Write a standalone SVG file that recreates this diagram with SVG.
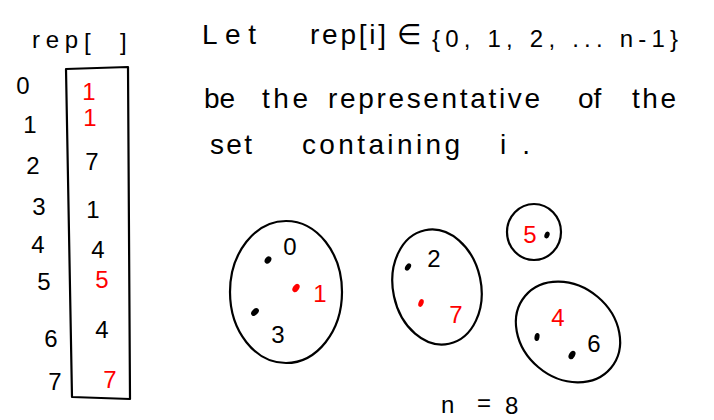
<svg xmlns="http://www.w3.org/2000/svg" width="714" height="420" viewBox="0 0 714 420">
<style>
.ink{fill:none;stroke:#000;stroke-width:2.2;stroke-linejoin:round;stroke-linecap:round}
.t{font-family:"Liberation Sans","DejaVu Sans",sans-serif;font-size:24px;fill:#000}
.w{font-size:28px}
.m{text-anchor:middle}
.r{fill:#f00}
.dot{fill:#000}
.rdot{fill:#f00}
</style>
<rect width="714" height="420" fill="#fff"/>

<g id="array">
  <text class="t" x="32" y="48" font-size="28" textLength="46">rep</text>
  <text class="t" x="84" y="50" font-size="32">[</text>
  <text class="t" x="120" y="50" font-size="32">]</text>
  <path class="ink" d="M66,69 L128,67 L130,399 L72,397 Z"/>
  <text class="t m" x="23" y="94">0</text>
  <text class="t m" x="30" y="133">1</text>
  <text class="t m" x="33" y="174">2</text>
  <text class="t m" x="39" y="215">3</text>
  <text class="t m" x="38" y="253">4</text>
  <text class="t m" x="44" y="290">5</text>
  <text class="t m" x="51" y="347">6</text>
  <text class="t m" x="55" y="390">7</text>
  <text class="t m r" x="89" y="100">1</text>
  <text class="t m r" x="90" y="126">1</text>
  <text class="t m" x="92" y="170">7</text>
  <text class="t m" x="93" y="218">1</text>
  <text class="t m" x="98" y="258">4</text>
  <text class="t m r" x="102" y="288">5</text>
  <text class="t m" x="102" y="338">4</text>
  <text class="t m r" x="110" y="388">7</text>
</g>

<g id="definition">
  <text class="t w" x="202" y="44" textLength="54">Let</text>
  <text class="t w" x="310" y="44" textLength="76">rep[i]</text>
  <text class="t w" x="397" y="44">∈</text>
  <text class="t" x="432" y="47" font-size="30" textLength="246">{0, 1, 2, ... n-1}</text>
  <text class="t w" x="204" y="108">be</text>
  <text class="t w" x="262" y="108" textLength="46">the</text>
  <text class="t w" x="328" y="108" textLength="212">representative</text>
  <text class="t w" x="578" y="108">of</text>
  <text class="t w" x="632" y="108" textLength="44">the</text>
  <text class="t w" x="210" y="154" textLength="42">set</text>
  <text class="t w" x="302" y="154" textLength="158">containing</text>
  <text class="t w" x="500" y="154" textLength="30">i.</text>
</g>

<g id="set-1">
  <ellipse class="ink" cx="286" cy="292" rx="56" ry="71"/>
  <ellipse class="dot" cx="268" cy="260" rx="3" ry="4" transform="rotate(35 268 260)"/>
  <text class="t m" x="290" y="255">0</text>
  <ellipse class="rdot" cx="296" cy="288" rx="3" ry="4.5" transform="rotate(35 296 288)"/>
  <text class="t m r" x="320" y="302">1</text>
  <ellipse class="dot" cx="255" cy="312" rx="3" ry="4.5" transform="rotate(45 255 312)"/>
  <text class="t m" x="278" y="343">3</text>
</g>

<g id="set-2">
  <ellipse class="ink" cx="437" cy="287" rx="44" ry="58" transform="rotate(-12 437 287)"/>
  <ellipse class="dot" cx="408" cy="267" rx="2.5" ry="4" transform="rotate(35 408 267)"/>
  <text class="t m" x="434" y="267">2</text>
  <ellipse class="rdot" cx="421" cy="303" rx="2.5" ry="4" transform="rotate(20 421 303)"/>
  <text class="t m r" x="456" y="323">7</text>
</g>

<g id="set-3">
  <ellipse class="ink" cx="534" cy="232" rx="27" ry="28"/>
  <text class="t m r" x="530" y="243">5</text>
  <ellipse class="dot" cx="547" cy="235" rx="2.5" ry="3.5" transform="rotate(20 547 235)"/>
</g>

<g id="set-4">
  <ellipse class="ink" cx="568" cy="332" rx="56" ry="46" transform="rotate(40 568 332)"/>
  <text class="t m r" x="558" y="326">4</text>
  <ellipse class="dot" cx="537" cy="337" rx="2.5" ry="4" transform="rotate(10 537 337)"/>
  <ellipse class="dot" cx="572" cy="355" rx="3" ry="4.5" transform="rotate(30 572 355)"/>
  <text class="t m" x="594" y="352">6</text>
</g>

<g id="n-label">
  <text class="t" x="441" y="413" font-size="40">n</text>
  <text class="t" x="477" y="411" font-size="32">=</text>
  <text class="t" x="505" y="414" font-size="32">8</text>
</g>

<g id="connectors"></g>
</svg>
